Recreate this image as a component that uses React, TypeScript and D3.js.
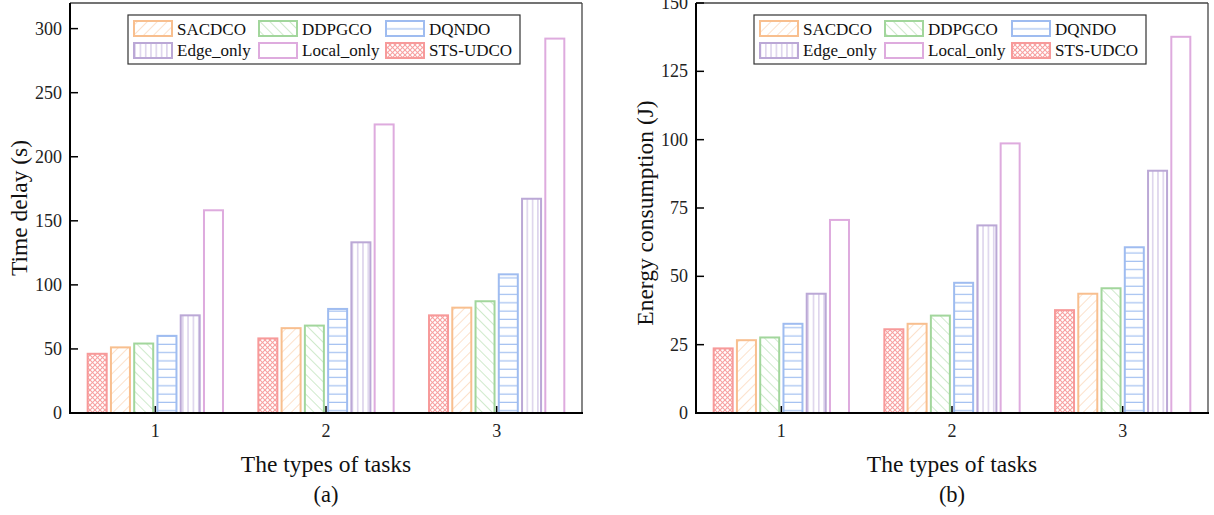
import React from 'react';
import * as d3 from 'd3';

// ---------- data ----------
const categories = ['1', '2', '3'];
const seriesNames = ['STS-UDCO', 'SACDCO', 'DDPGCO', 'DQNDO', 'Edge_only', 'Local_only'];
const legendOrder = ['SACDCO', 'DDPGCO', 'DQNDO', 'Edge_only', 'Local_only', 'STS-UDCO'];

// Panel (a): time delay (s)
const delaySTS = [47, 59, 77];
const delaySAC = [52, 67, 83];
const delayDDPG = [55, 69, 88];
const delayDQN = [61, 82, 109];
const delayEdge = [77, 134, 168];
const delayLocal = [159, 226, 293];
const delayTicks = [0, 50, 100, 150, 200, 250, 300];

// Panel (b): energy consumption (J)
const energySTS = [24, 31, 38];
const energySAC = [27, 33, 44];
const energyDDPG = [28, 36, 46];
const energyDQN = [33, 48, 61];
const energyEdge = [44, 69, 89];
const energyLocal = [71, 99, 138];
const energyTicks = [0, 25, 50, 75, 100, 125, 150];

const delayData: Record<string, number[]> = {
  'STS-UDCO': delaySTS,
  SACDCO: delaySAC,
  DDPGCO: delayDDPG,
  DQNDO: delayDQN,
  Edge_only: delayEdge,
  Local_only: delayLocal,
};
const energyData: Record<string, number[]> = {
  'STS-UDCO': energySTS,
  SACDCO: energySAC,
  DDPGCO: energyDDPG,
  DQNDO: energyDQN,
  Edge_only: energyEdge,
  Local_only: energyLocal,
};

// ---------- styles ----------
const strokeColor: Record<string, string> = {
  'STS-UDCO': '#F79A9A',
  SACDCO: '#F8BF8F',
  DDPGCO: '#A2D69C',
  DQNDO: '#9FBCF0',
  Edge_only: '#BBA8D6',
  Local_only: '#DEABDE',
};
const patternId: Record<string, string> = {
  'STS-UDCO': 'url(#p-sts)',
  SACDCO: 'url(#p-sac)',
  DDPGCO: 'url(#p-ddpg)',
  DQNDO: 'url(#p-dqn)',
  Edge_only: 'url(#p-edge)',
  Local_only: 'none',
};

const FONT = '"Liberation Serif", "Times New Roman", serif';
const TOP = 3;
const BOTTOM = 413;
const PW = 512;

function Patterns() {
  return (
    <defs>
      <pattern id="p-sac" patternUnits="userSpaceOnUse" width={7} height={7} patternTransform="rotate(45)">
        <line x1={0} y1={0} x2={0} y2={7} stroke="#F9C7A0" strokeWidth={1.1} />
      </pattern>
      <pattern id="p-ddpg" patternUnits="userSpaceOnUse" width={7} height={7} patternTransform="rotate(-45)">
        <line x1={0} y1={0} x2={0} y2={7} stroke="#A6D8A1" strokeWidth={1.1} />
      </pattern>
      <pattern id="p-dqn" patternUnits="userSpaceOnUse" width={8} height={8.3}>
        <line x1={0} y1={4} x2={8} y2={4} stroke="#A3C0F0" strokeWidth={1.2} />
      </pattern>
      <pattern id="p-edge" patternUnits="userSpaceOnUse" width={5.3} height={8}>
        <line x1={2.6} y1={0} x2={2.6} y2={8} stroke="#CDBFE3" strokeWidth={1.1} />
      </pattern>
      <pattern id="p-sts" patternUnits="userSpaceOnUse" width={5} height={5}>
        <line x1={0} y1={0} x2={5} y2={5} stroke="#F7A0A0" strokeWidth={1.1} />
        <line x1={0} y1={5} x2={5} y2={0} stroke="#F7A0A0" strokeWidth={1.1} />
      </pattern>
    </defs>
  );
}

type PanelProps = {
  left: number;
  data: Record<string, number[]>;
  yMax: number;
  ticks: number[];
  yLabel: string;
  yLabelY: number;
  sub: string;
};

function Panel({ left, data, yMax, ticks, yLabel, yLabelY, sub }: PanelProps) {
  const right = left + PW;
  const x = d3.scaleLinear().domain([0.5, 3.5]).range([left, right]);
  const y = d3.scaleLinear().domain([0, yMax]).range([BOTTOM, TOP]);
  const halfSpan = 68.65;
  const inner = d3.scaleBand<string>().domain(seriesNames).range([-halfSpan, halfSpan]).paddingInner(0.097).paddingOuter(0);
  const bw = inner.bandwidth();
  const cx = (left + right) / 2;

  const legLeft = left + 58;
  const colSw = [5, 130, 257];
  const colTx = [49, 174, 301];
  const rowSwY = [20, 42];
  const rowTxY = [35, 56];

  return (
    <g>
      {/* bars */}
      {categories.map((c, ci) => {
        const center = x(ci + 1);
        return seriesNames.map((s) => {
          const v = data[s][ci];
          const x0 = center + (inner(s) as number);
          const yt = y(v);
          return (
            <rect
              key={s + c}
              x={x0 + 1}
              y={yt + 1}
              width={bw - 2}
              height={BOTTOM - yt - 1}
              fill={patternId[s]}
              stroke={strokeColor[s]}
              strokeWidth={2}
            />
          );
        });
      })}
      {/* frame */}
      <line x1={left} y1={TOP} x2={right} y2={TOP} stroke="#444" strokeWidth={1.3} />
      <line x1={right} y1={TOP} x2={right} y2={BOTTOM} stroke="#444" strokeWidth={1.3} />
      <line x1={left} y1={TOP} x2={left} y2={BOTTOM + 1} stroke="#000" strokeWidth={2} />
      <line x1={left - 1} y1={BOTTOM} x2={right + 1} y2={BOTTOM} stroke="#000" strokeWidth={2.2} />
      {/* y ticks */}
      {ticks.map((t) => (
        <g key={t}>
          <line x1={left} x2={left + 8} y1={y(t)} y2={y(t)} stroke="#000" strokeWidth={1.5} />
          <text x={left - 8} y={y(t)} dy="0.34em" textAnchor="end" fontSize={18} fontFamily={FONT} fill="#222">
            {t}
          </text>
        </g>
      ))}
      {/* x ticks */}
      {categories.map((c, ci) => (
        <g key={c}>
          <line x1={x(ci + 1)} x2={x(ci + 1)} y1={BOTTOM} y2={BOTTOM - 7} stroke="#000" strokeWidth={1.5} />
          <text x={x(ci + 1)} y={437} textAnchor="middle" fontSize={18} fontFamily={FONT} fill="#222">
            {c}
          </text>
        </g>
      ))}
      {/* titles */}
      <text x={cx} y={472} textAnchor="middle" fontSize={23.5} fontFamily={FONT} fill="#111">
        The types of tasks
      </text>
      <text x={cx} y={502} textAnchor="middle" fontSize={22.5} fontFamily={FONT} fill="#111">
        {sub}
      </text>
      <text
        transform={`translate(${left - 43},${yLabelY}) rotate(-90)`}
        textAnchor="middle"
        fontSize={23.5}
        fontFamily={FONT}
        fill="#111"
      >
        {yLabel}
      </text>
      {/* legend */}
      <rect x={legLeft} y={15} width={392} height={49} fill="#fff" stroke="#333" strokeWidth={1.2} />
      {legendOrder.map((s, i) => {
        const col = i % 3;
        const row = Math.floor(i / 3);
        return (
          <g key={s}>
            <rect
              x={legLeft + colSw[col] + 1}
              y={rowSwY[row] + 1}
              width={38}
              height={15}
              fill={patternId[s] === 'none' ? '#fff' : patternId[s]}
              stroke={strokeColor[s]}
              strokeWidth={2}
            />
            <text x={legLeft + colTx[col]} y={rowTxY[row]} fontSize={17} fontFamily={FONT} fill="#111">
              {s}
            </text>
          </g>
        );
      })}
    </g>
  );
}

export default function App() {
  return (
    <svg
      width={1214}
      height={515}
      style={{ position: 'absolute', left: 0, top: 0, background: '#fff' }}
      xmlns="http://www.w3.org/2000/svg"
    >
      <Patterns />
      <rect x={0} y={0} width={1214} height={515} fill="#fff" />
      <Panel left={70} data={delayData} yMax={320} ticks={delayTicks} yLabel="Time delay (s)" yLabelY={208} sub="(a)" />
      <Panel
        left={696}
        data={energyData}
        yMax={150}
        ticks={energyTicks}
        yLabel="Energy consumption (J)"
        yLabelY={213}
        sub="(b)"
      />
    </svg>
  );
}
